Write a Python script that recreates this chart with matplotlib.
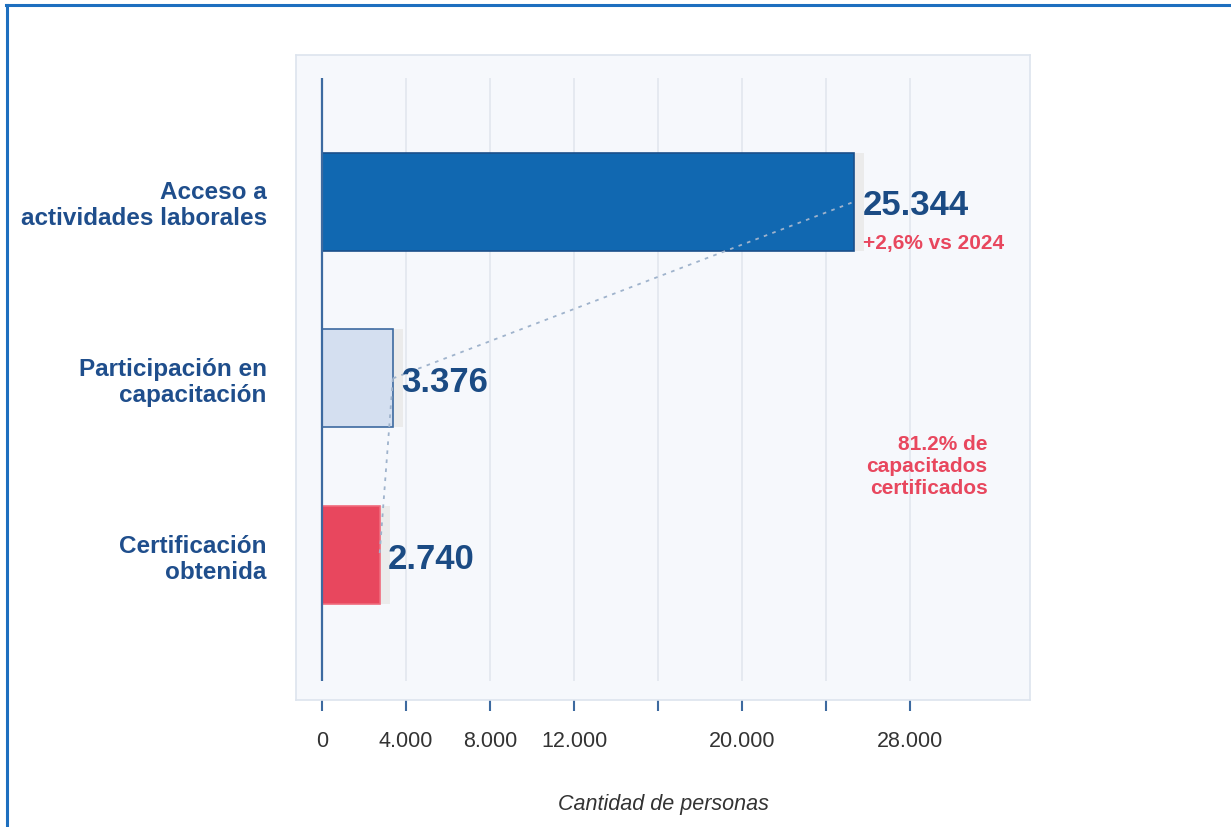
import matplotlib.pyplot as plt
from matplotlib.lines import Line2D

plt.rcParams['font.family'] = ['Liberation Sans', 'DejaVu Sans']

# datos
categorias = ['Acceso a\nactividades laborales', 'Participación en\ncapacitación', 'Certificación\nobtenida']
valores = [25344, 3376, 2740]
etiquetas = ['25.344', '3.376', '2.740']
colores = ['#1168b1', '#d4dff0', '#e8475e']
bordes = ['#1b4f8a', '#3d6aa0', '#f06a7c']
ticks = [0, 4000, 8000, 12000, 16000, 20000, 24000, 28000]
tick_labels = ['0', '4.000', '8.000', '12.000', '', '20.000', '', '28.000']

azul_txt = '#1b4b84'
rojo = '#e8475e'

fig = plt.figure(figsize=(12.31, 8.27), dpi=100)
ax = fig.add_axes([296/1231, 1 - 700/827, (1030-296)/1231, (700-55)/827])
ax.set_facecolor('#f6f8fc')
for s in ax.spines.values():
    s.set_color('#dde4ee')
    s.set_linewidth(1.2)

y = list(range(len(valores)))
ax.set_xlim(-1238, 33714)
ax.set_ylim(2.82, -0.83)

# grid + axis line
ax.vlines(ticks[1:], -0.70, 2.71, color='#e2e6ee', lw=1.2, zorder=0)
ax.vlines(0, -0.70, 2.71, color='#3d6aa0', lw=1.6, zorder=5)

# sombra y barras
ax.barh(y, [v + 480 for v in valores], height=0.555, color='#ebebeb', zorder=1)
ax.barh(y, valores, height=0.555, color=colores, edgecolor=bordes, linewidth=1.2, zorder=2)

# conectores punteados
ax.plot([valores[1], valores[0]], [1, 0], ls=(0, (2, 3)), color='#9fb3cc', lw=1.3, zorder=3)
ax.plot([valores[1], valores[2]], [1, 2], ls=(0, (2, 3)), color='#9fb3cc', lw=1.3, zorder=3)

for yi, v, t in zip(y, valores, etiquetas):
    ax.annotate(t, (v, yi), xytext=(6, -3), textcoords='offset points',
                ha='left', va='center', fontsize=25, fontweight='bold', color=azul_txt, zorder=6)

ax.annotate('+2,6% vs 2024', (valores[0], 0.227), xytext=(6.5, -1.5), textcoords='offset points',
            ha='left', va='center', fontsize=15, fontweight='bold', color=rojo)

ax.text(31700, 1.5, '81.2% de\ncapacitados\ncertificados', ha='right', va='center',
        fontsize=15, fontweight='bold', color=rojo, linespacing=1.2)

ax.set_yticks(y)
ax.set_yticklabels(categorias, fontsize=17.5, fontweight='bold', color='#1f4e8c', linespacing=1.18)
ax.tick_params(axis='y', length=0, pad=21)

ax.set_xticks(ticks)
ax.set_xticklabels(tick_labels, fontsize=15.5, color='#333333')
ax.tick_params(axis='x', length=8, width=1.5, color='#3d6aa0', pad=14)

ax.set_xlabel('Cantidad de personas', fontsize=15.5, style='italic', color='#333333')
ax.xaxis.set_label_coords(0.5, -0.146)

# marco azul
fig.add_artist(Line2D([6/1231, 1], [1 - 5/827, 1 - 5/827], color='#1e6fbf', lw=2.2))
fig.add_artist(Line2D([7/1231, 7/1231], [0, 1 - 5/827], color='#1e6fbf', lw=2.2))

fig.savefig('out.png', dpi=100)
